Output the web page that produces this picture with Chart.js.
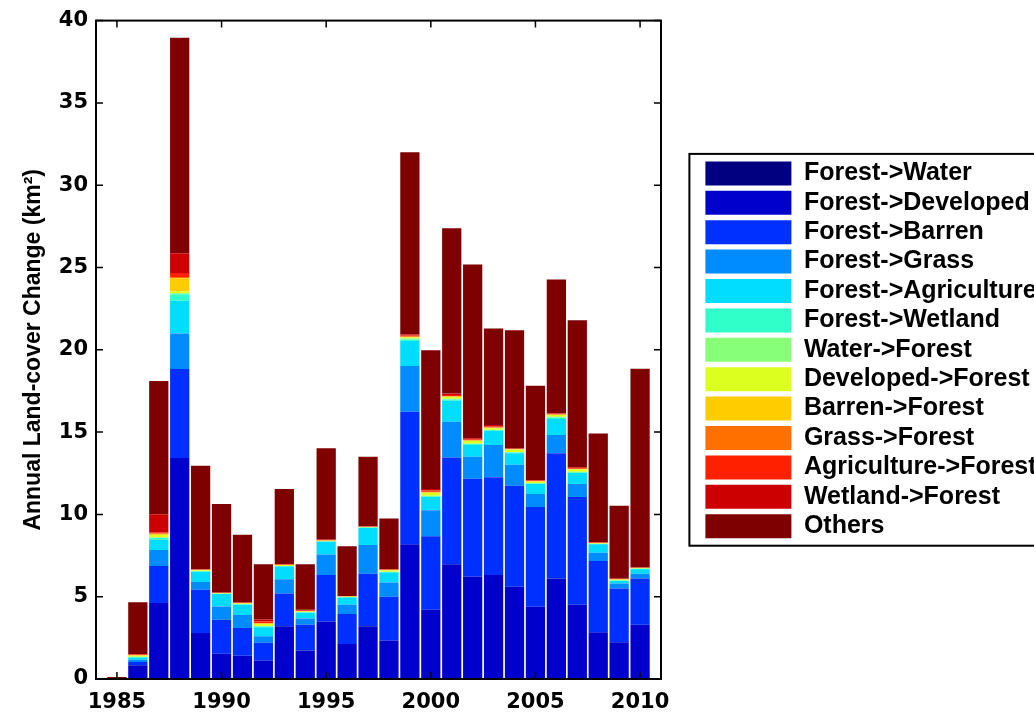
<!DOCTYPE html>
<html><head><meta charset="utf-8">
<script src="https://cdn.jsdelivr.net/npm/chart.js@4.4.1/dist/chart.umd.min.js"></script>
<style>
html,body{margin:0;padding:0;background:#fff;overflow:hidden;}
#wrap{position:relative;width:1034px;height:713px;}
</style></head><body>
<div id="wrap"><canvas id="c" width="1034" height="713"></canvas></div>
<script>
const years = [1985,1986,1987,1988,1989,1990,1991,1992,1993,1994,1995,1996,1997,1998,1999,2000,2001,2002,2003,2004,2005,2006,2007,2008,2009,2010];
const xTickLabels = [1985,1990,1995,2000,2005,2010];
const yTickLabels = [0,5,10,15,20,25,30,35,40];
const seriesNames = ['Forest->Water','Forest->Developed','Forest->Barren','Forest->Grass','Forest->Agriculture','Forest->Wetland','Water->Forest','Developed->Forest','Barren->Forest','Grass->Forest','Agriculture->Forest','Wetland->Forest','Others'];
const seriesColors = ['#000080','#0000CD','#0030FF','#008CFF','#00DDFF','#30FFCA','#88FF78','#DDFF20','#FFCC00','#FF7000','#FF2000','#CC0000','#7F0000'];

const forestToWater       = [0,0,0,0,0,0,0,0,0,0,0,0,0,0,0,0,0,0,0,0,0,0,0,0,0,0];
const forestToDeveloped   = [0,0.83,4.61,13.43,2.80,1.53,1.41,1.13,3.20,1.73,3.50,2.13,3.20,2.34,8.18,4.21,6.97,6.22,6.32,5.60,4.39,6.10,4.51,2.84,2.24,3.30];
const forestToBarren      = [0,0.20,2.26,5.40,2.62,2.07,1.69,1.07,2.00,1.57,2.82,1.82,3.20,2.65,8.05,4.47,6.48,5.95,5.93,6.14,6.06,7.62,6.55,4.33,3.26,2.80];
const forestToGrass       = [0,0.14,0.96,2.16,0.48,0.81,0.79,0.40,0.86,0.37,1.25,0.56,1.74,0.87,2.78,1.57,2.18,1.34,1.97,1.27,0.79,1.10,0.78,0.50,0.30,0.30];
const forestToAgriculture = [0,0.12,0.63,1.99,0.61,0.75,0.62,0.54,0.77,0.36,0.77,0.44,1.04,0.61,1.52,0.81,1.27,0.71,0.85,0.71,0.60,0.97,0.67,0.51,0.16,0.27];
const forestToWetland     = [0,0.04,0.10,0.40,0.03,0.02,0.03,0.05,0.03,0.02,0.02,0.02,0.02,0.03,0.10,0.04,0.08,0.05,0.04,0.04,0.03,0.10,0.05,0.02,0.02,0.03];
const waterToForest       = [0,0.02,0.04,0.05,0.01,0,0.01,0.03,0.01,0.01,0.01,0.01,0.01,0.02,0.06,0.03,0.05,0.04,0.03,0.03,0.02,0.05,0.03,0.01,0.01,0.01];
const developedToForest   = [0,0.06,0.15,0.12,0.05,0.03,0.04,0.12,0.05,0.04,0.03,0.02,0.02,0.08,0.06,0.17,0.10,0.15,0.10,0.15,0.10,0.10,0.14,0.04,0.05,0.03];
const barrenToForest      = [0,0.03,0.05,0.80,0.02,0.01,0.01,0.03,0.01,0.01,0.01,0.01,0.01,0.02,0.03,0.04,0.03,0.03,0.03,0.02,0.02,0.02,0.03,0.01,0.01,0.01];
const grassToForest       = [0,0.02,0.04,0.08,0.01,0.01,0.01,0.03,0.01,0.01,0.01,0.01,0.01,0.01,0.03,0.03,0.02,0.02,0.02,0.01,0.02,0.02,0.02,0.01,0.01,0.01];
const agricultureToForest = [0,0.03,0.06,0.24,0.02,0.01,0.02,0.10,0.02,0.04,0.02,0.01,0.01,0.03,0.06,0.08,0.08,0.05,0.07,0.02,0.03,0.03,0.05,0.02,0.02,0.01];
const wetlandToForest     = [0,0.03,1.11,1.19,0.02,0.02,0.02,0.12,0.02,0.05,0.03,0.02,0.02,0.03,0.06,0.09,0.08,0.06,0.07,0.02,0.03,0.03,0.05,0.02,0.02,0.01];
const others              = [0.12,3.15,8.10,13.10,6.28,5.37,4.11,3.35,4.56,2.76,5.55,3.01,4.23,3.06,11.07,8.44,10.05,10.56,5.86,7.18,5.73,8.13,8.91,6.61,4.43,12.07];

const seriesValues = [forestToWater,forestToDeveloped,forestToBarren,forestToGrass,forestToAgriculture,forestToWetland,waterToForest,developedToForest,barrenToForest,grassToForest,agricultureToForest,wetlandToForest,others];

const datasets = seriesNames.map((name, k) => ({
  label: name,
  data: years.map((yr, i) => ({x: yr, y: seriesValues[k][i]})),
  backgroundColor: seriesColors[k],
  borderWidth: 0,
  categoryPercentage: 1.0,
  barPercentage: 0.92
}));

const frameAndTicks = {
  id: 'frameAndTicks',
  afterDatasetsDraw(chart) {
    const {ctx, chartArea: a, scales} = chart;
    ctx.save();
    ctx.strokeStyle = '#000';
    ctx.lineWidth = 2;
    ctx.strokeRect(a.left, a.top, a.right - a.left, a.bottom - a.top);
    ctx.lineWidth = 1.5;
    const tl = 7;
    ctx.beginPath();
    scales.x.ticks.forEach(t => {
      const px = scales.x.getPixelForValue(t.value);
      ctx.moveTo(px, a.bottom); ctx.lineTo(px, a.bottom - tl);
      ctx.moveTo(px, a.top); ctx.lineTo(px, a.top + tl);
    });
    scales.y.ticks.forEach(t => {
      const py = scales.y.getPixelForValue(t.value);
      ctx.moveTo(a.left, py); ctx.lineTo(a.left + tl, py);
      ctx.moveTo(a.right, py); ctx.lineTo(a.right - tl, py);
    });
    ctx.stroke();
    ctx.restore();
  },
  afterDraw(chart) {
    const lg = chart.legend;
    if (!lg || !lg.legendHitBoxes || !lg.legendHitBoxes.length) return;
    const hb = lg.legendHitBoxes;
    const first = hb[0], last = hb[hb.length - 1];
    const ctx = chart.ctx;
    ctx.save();
    ctx.strokeStyle = '#000';
    ctx.lineWidth = 2;
    const left = first.left - 16;
    const top = first.top - 7;
    const bottom = last.top + last.height + 7;
    ctx.strokeRect(left, top, chart.width + 20 - left, bottom - top);
    ctx.restore();
  }
};

new Chart(document.getElementById('c'), {
  type: 'bar',
  data: { datasets },
  options: {
    responsive: false,
    devicePixelRatio: 1,
    animation: false,
    layout: { padding: { top: 17, left: 0, right: 0, bottom: 0 } },
    plugins: {
      tooltip: { enabled: false },
      legend: {
        position: 'right',
        fullSize: false,
        maxWidth: 333,
        labels: {
          boxWidth: 86,
          boxHeight: 24,
          padding: 4.4,
          color: '#000',
          font: { family: 'Liberation Sans', weight: 'bold', size: 25 }
        }
      }
    },
    scales: {
      x: {
        type: 'linear',
        stacked: true,
        min: 1984,
        max: 2011,
        offset: false,
        afterBuildTicks(s) { s.ticks = xTickLabels.map(v => ({value: v})); },
        afterFit(s) { s.height = 34; },
        grid: { display: false, drawTicks: false },
        border: { display: false },
        ticks: {
          padding: 11,
          color: '#000',
          font: { family: 'DejaVu Sans', weight: 'bold', size: 21 },
          callback: v => String(v)
        }
      },
      y: {
        type: 'linear',
        stacked: true,
        min: 0,
        max: 40,
        afterBuildTicks(s) { s.ticks = yTickLabels.map(v => ({value: v})); },
        afterFit(s) { s.width = 96; },
        grid: { display: false, drawTicks: false },
        border: { display: false },
        ticks: {
          padding: 8,
          color: '#000',
          font: { family: 'DejaVu Sans', weight: 'bold', size: 21 },
          callback: v => String(v)
        },
        title: {
          display: true,
          text: 'Annual Land-cover Change (km\u00B2)',
          color: '#000',
          padding: { top: 20, bottom: 0 },
          font: { family: 'Liberation Sans', weight: 'bold', size: 23 }
        }
      },
      y2: {
        type: 'linear',
        position: 'right',
        display: true,
        afterFit(s) { s.width = 40; },
        grid: { display: false, drawTicks: false },
        border: { display: false },
        ticks: { display: false }
      }
    }
  },
  plugins: [frameAndTicks]
});
</script>
</body></html>
